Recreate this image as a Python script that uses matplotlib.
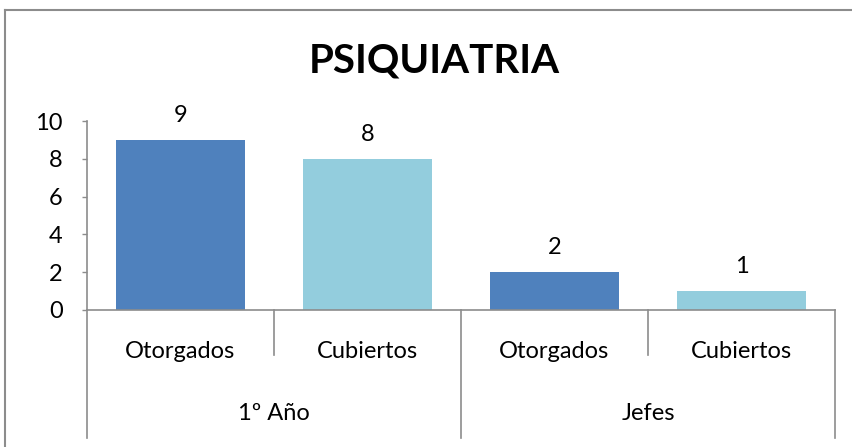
import matplotlib
matplotlib.use('Agg')
import matplotlib.pyplot as plt
from matplotlib.lines import Line2D
import matplotlib.transforms as mtransforms

groups = ['1º Año', 'Jefes']
subcats = ['Otorgados', 'Cubiertos', 'Otorgados', 'Cubiertos']
values = [9, 8, 2, 1]
colors = ['#4F81BD', '#93CDDD', '#4F81BD', '#93CDDD']
yticks = [0, 2, 4, 6, 8, 10]

plt.rcParams['font.family'] = ['Lato', 'DejaVu Sans']
grey = '#8C8C8C'
fs = 17

fig = plt.figure(figsize=(8.52, 4.47), dpi=100)
ax = fig.add_axes([87 / 852, 1 - 310 / 447, (835 - 87) / 852, (310 - 121) / 447])

x = list(range(len(values)))
bars = ax.bar(x, values, width=0.69, color=colors)
for xi, v in zip(x, values):
    ax.annotate(str(v), (xi, v), xytext=(0, 13), textcoords='offset points',
                ha='center', va='baseline', fontsize=fs)

ax.set_xlim(-0.5, len(values) - 0.5)
ax.set_ylim(0, 10)
ax.set_yticks(yticks)
ax.tick_params(axis='y', length=3.6, width=1, color=grey, pad=14, labelsize=fs)
ax.set_xticks([])
for s in ['top', 'right']:
    ax.spines[s].set_visible(False)
for s in ['left', 'bottom']:
    ax.spines[s].set_color(grey)
    ax.spines[s].set_linewidth(1.2)

# two-level category axis
trans = mtransforms.blended_transform_factory(ax.transData, ax.transAxes)
short_y = -45 / 189
long_y = -128 / 189
for i in range(len(values) + 1):
    xb = i - 0.5
    y1 = long_y if i % 2 == 0 else short_y
    ax.add_line(Line2D([xb, xb], [0, y1], transform=trans, color=grey,
                       lw=1.2, clip_on=False))
for xi, lab in zip(x, subcats):
    ax.text(xi, -42 / 189, lab, transform=trans, ha='center', va='center',
            fontsize=fs)
for gi, g in enumerate(groups):
    ax.text(2 * gi + 0.5, -103 / 189, g, transform=trans, ha='center',
            va='center', fontsize=fs)

fig.text(434.5 / 852, 1 - 61 / 447, 'PSIQUIATRIA', ha='center', va='center',
         fontsize=29, fontweight='bold')

# chart frame (only top and left edges visible)
fl = 5 / 852
ft = 1 - 10 / 447
fig.add_artist(Line2D([fl, 1], [ft, ft], transform=fig.transFigure,
                      color=grey, lw=1.5))
fig.add_artist(Line2D([fl, fl], [0, ft], transform=fig.transFigure,
                      color=grey, lw=1.5))

fig.savefig('out.png', dpi=100, facecolor='white')
